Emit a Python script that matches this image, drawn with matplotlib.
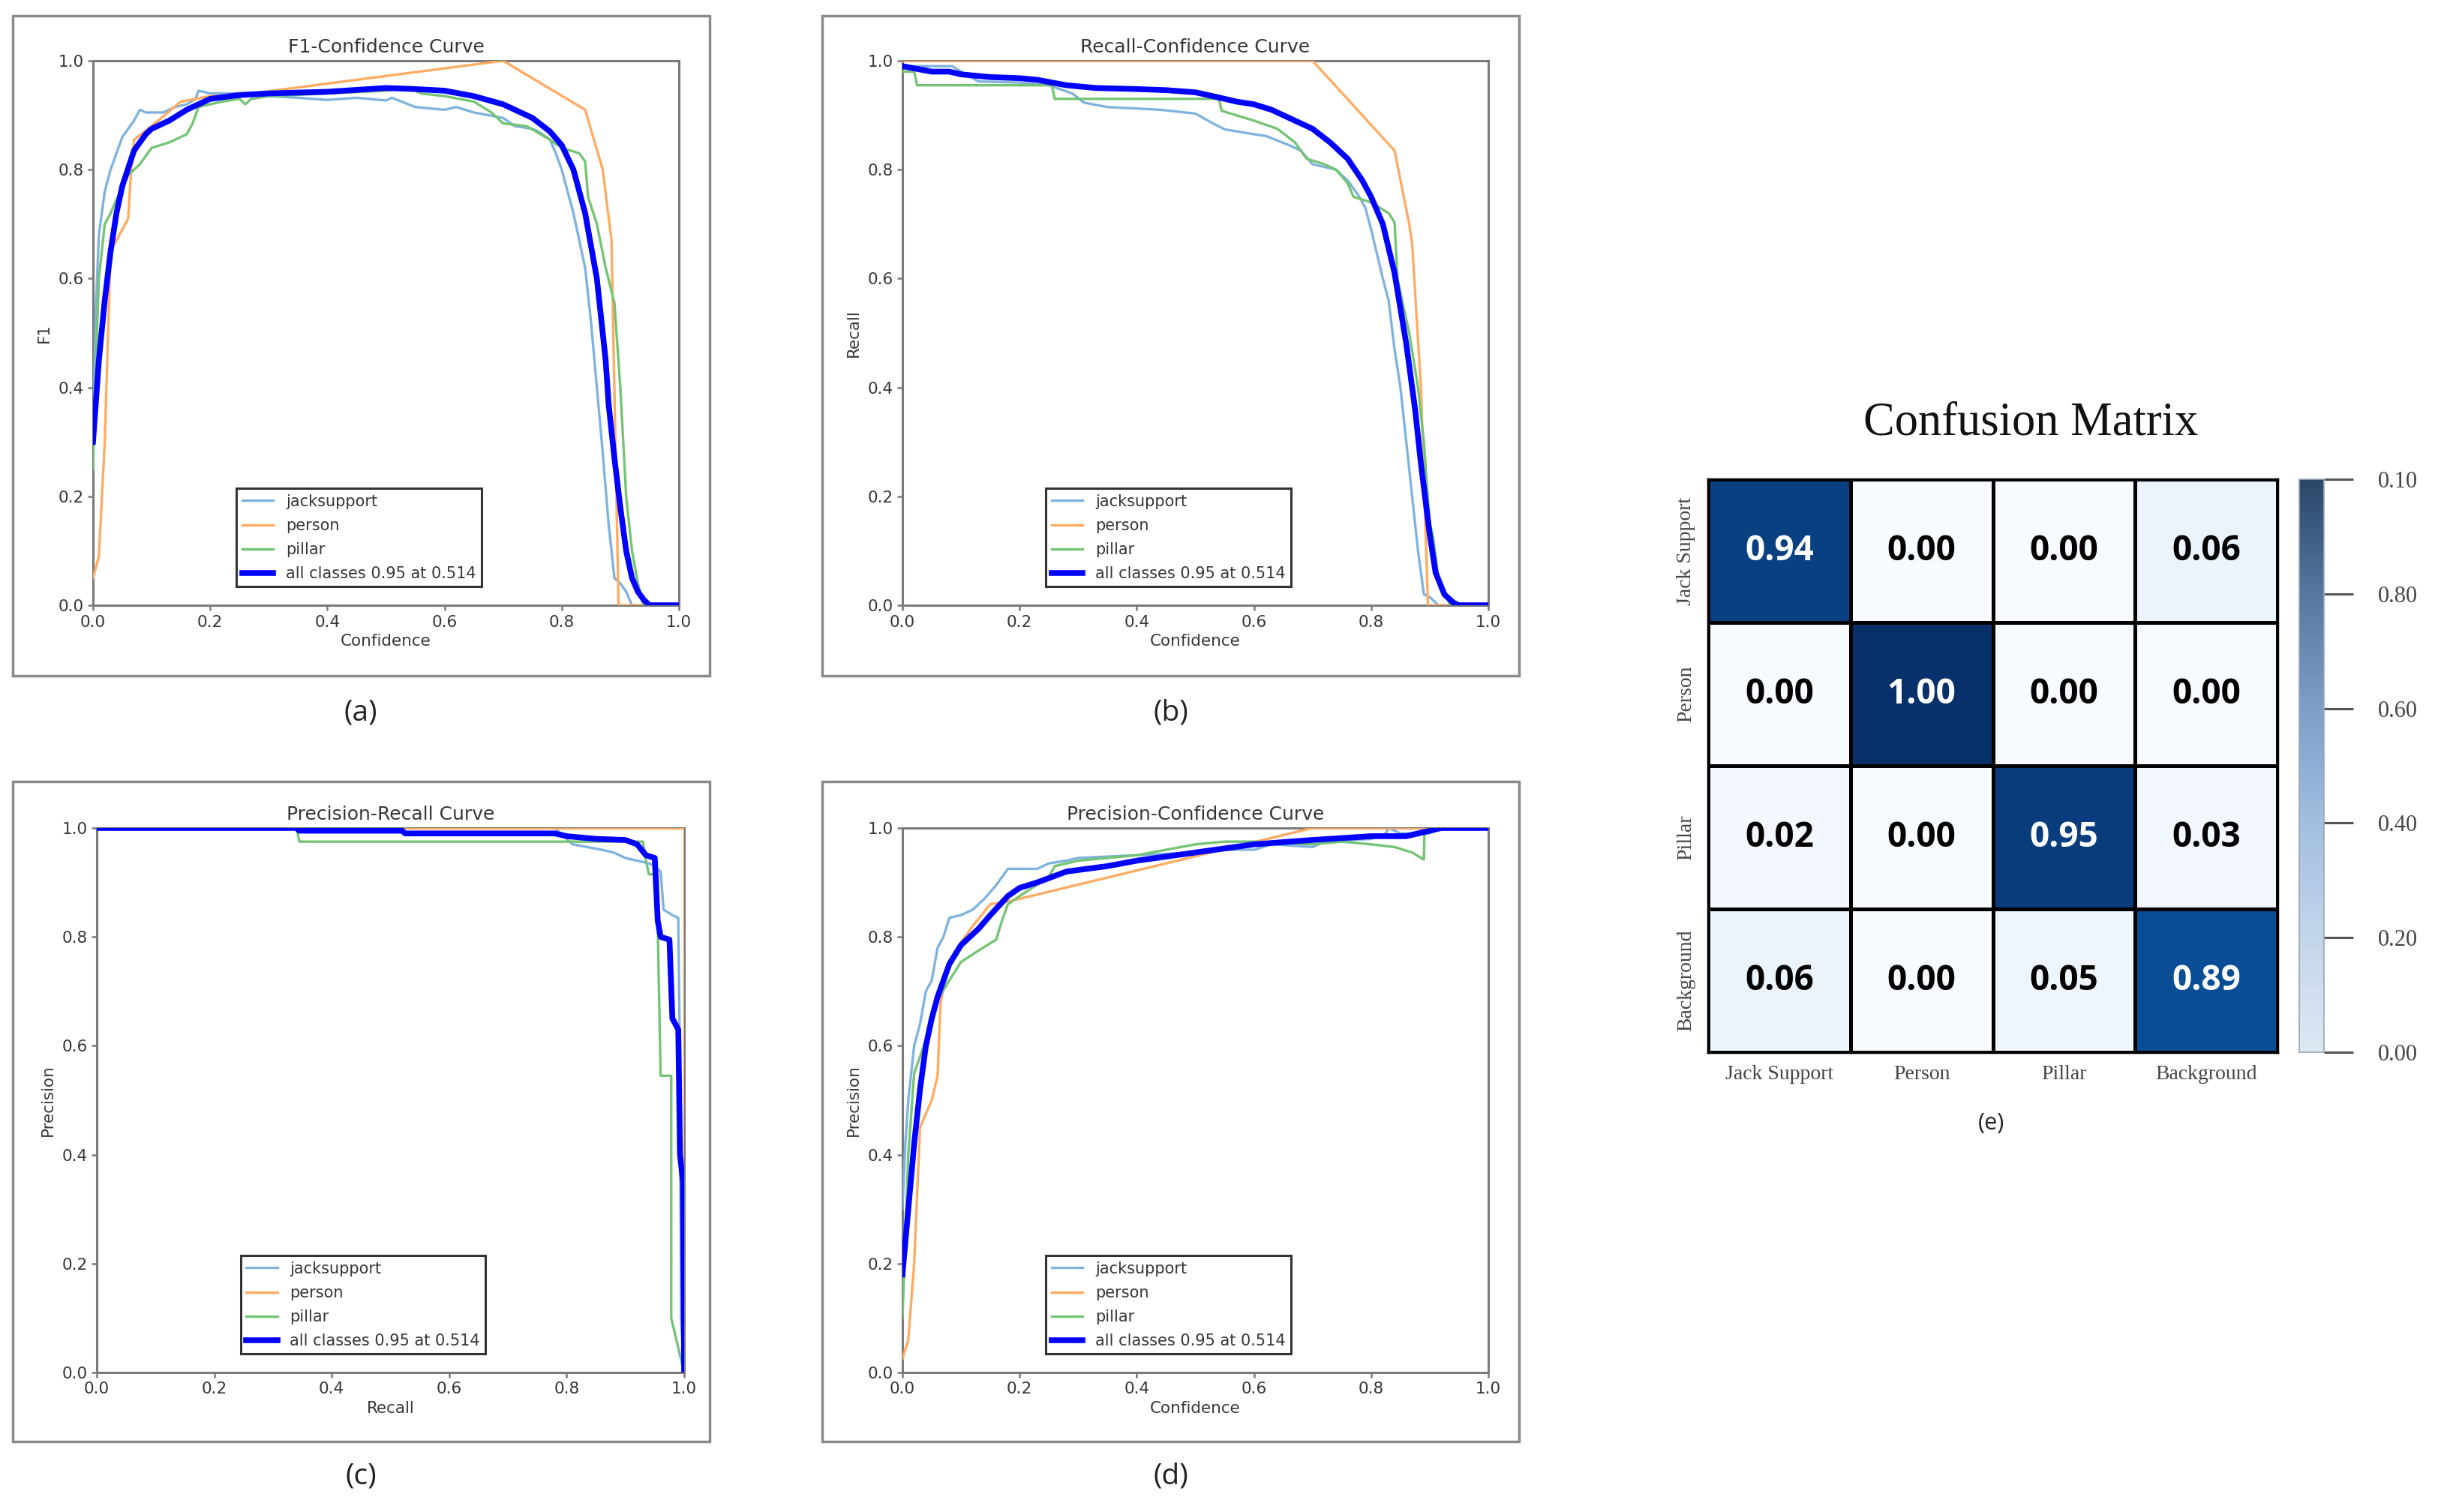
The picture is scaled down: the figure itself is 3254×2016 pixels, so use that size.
import matplotlib
matplotlib.use("Agg")
import matplotlib.pyplot as plt
import numpy as np
from matplotlib.colors import LinearSegmentedColormap, Normalize
from matplotlib.patches import Rectangle
from matplotlib.cm import ScalarMappable

# ---------------- data ----------------
class_names = ["jacksupport", "person", "pillar"]
all_label = "all classes 0.95 at 0.514"

# (a) F1-Confidence
js_f1_x = [0, 0.005, 0.01, 0.02, 0.03, 0.04, 0.05, 0.06, 0.07, 0.08, 0.09, 0.1, 0.12, 0.14, 0.16, 0.175, 0.18, 0.2, 0.25, 0.3, 0.35, 0.4, 0.45, 0.5, 0.51, 0.55, 0.6, 0.62, 0.65, 0.7, 0.72, 0.75, 0.76, 0.78, 0.79, 0.8, 0.81, 0.82, 0.83, 0.84, 0.85, 0.86, 0.87, 0.88, 0.89, 0.9, 0.91, 0.92, 1.0]
js_f1_y = [0.30, 0.55, 0.68, 0.76, 0.80, 0.83, 0.86, 0.875, 0.89, 0.91, 0.905, 0.905, 0.905, 0.915, 0.92, 0.93, 0.945, 0.94, 0.94, 0.935, 0.932, 0.928, 0.932, 0.927, 0.932, 0.915, 0.91, 0.915, 0.905, 0.895, 0.88, 0.875, 0.87, 0.855, 0.83, 0.80, 0.76, 0.72, 0.67, 0.62, 0.52, 0.40, 0.28, 0.15, 0.05, 0.04, 0.025, 0.0, 0.0]
ps_f1_x = [0, 0.01, 0.02, 0.03, 0.06, 0.065, 0.07, 0.1, 0.15, 0.2, 0.25, 0.7, 0.84, 0.87, 0.885, 0.897, 1.0]
ps_f1_y = [0.05, 0.09, 0.30, 0.65, 0.71, 0.80, 0.855, 0.88, 0.925, 0.935, 0.937, 1.0, 0.91, 0.80, 0.67, 0.0, 0.0]
pl_f1_x = [0, 0.005, 0.01, 0.02, 0.03, 0.04, 0.06, 0.08, 0.1, 0.13, 0.16, 0.17, 0.18, 0.22, 0.25, 0.26, 0.27, 0.3, 0.4, 0.5, 0.54, 0.56, 0.6, 0.65, 0.68, 0.7, 0.74, 0.78, 0.8, 0.83, 0.84, 0.845, 0.86, 0.875, 0.89, 0.9, 0.91, 0.92, 0.93, 0.94, 1.0]
pl_f1_y = [0.25, 0.45, 0.60, 0.70, 0.72, 0.745, 0.79, 0.81, 0.84, 0.85, 0.865, 0.885, 0.915, 0.925, 0.93, 0.92, 0.93, 0.935, 0.94, 0.945, 0.95, 0.94, 0.935, 0.925, 0.905, 0.885, 0.88, 0.855, 0.84, 0.83, 0.815, 0.75, 0.70, 0.62, 0.555, 0.40, 0.20, 0.10, 0.04, 0.0, 0.0]
al_f1_x = [0, 0.01, 0.02, 0.03, 0.04, 0.05, 0.07, 0.09, 0.1, 0.13, 0.16, 0.2, 0.25, 0.3, 0.4, 0.5, 0.55, 0.6, 0.65, 0.7, 0.75, 0.78, 0.8, 0.82, 0.84, 0.86, 0.875, 0.88, 0.89, 0.9, 0.91, 0.92, 0.93, 0.94, 0.95, 1.0]
al_f1_y = [0.30, 0.45, 0.56, 0.65, 0.72, 0.77, 0.835, 0.865, 0.875, 0.89, 0.91, 0.93, 0.937, 0.94, 0.943, 0.95, 0.948, 0.945, 0.935, 0.92, 0.895, 0.87, 0.845, 0.80, 0.72, 0.60, 0.45, 0.37, 0.27, 0.18, 0.10, 0.05, 0.025, 0.01, 0.0, 0.0]

# (b) Recall-Confidence
js_r_x = [0, 0.085, 0.1, 0.13, 0.2, 0.25, 0.29, 0.31, 0.35, 0.44, 0.5, 0.53, 0.55, 0.6, 0.62, 0.66, 0.68, 0.7, 0.74, 0.76, 0.78, 0.79, 0.8, 0.82, 0.83, 0.84, 0.85, 0.86, 0.87, 0.88, 0.89, 0.9, 0.915, 1.0]
js_r_y = [0.99, 0.99, 0.98, 0.962, 0.96, 0.955, 0.94, 0.923, 0.915, 0.91, 0.903, 0.885, 0.874, 0.865, 0.862, 0.845, 0.835, 0.81, 0.80, 0.78, 0.75, 0.73, 0.69, 0.60, 0.559, 0.47, 0.40, 0.30, 0.20, 0.10, 0.02, 0.015, 0.0, 0.0]
ps_r_x = [0, 0.70, 0.84, 0.865, 0.87, 0.885, 0.897, 1.0]
ps_r_y = [1.0, 1.0, 0.835, 0.70, 0.664, 0.40, 0.0, 0.0]
pl_r_x = [0, 0.02, 0.025, 0.255, 0.26, 0.54, 0.545, 0.6, 0.64, 0.67, 0.69, 0.72, 0.74, 0.76, 0.77, 0.8, 0.83, 0.84, 0.845, 0.865, 0.88, 0.89, 0.9, 0.905, 0.915, 0.935, 1.0]
pl_r_y = [0.98, 0.98, 0.955, 0.955, 0.93, 0.93, 0.908, 0.89, 0.875, 0.85, 0.82, 0.81, 0.80, 0.775, 0.75, 0.74, 0.72, 0.703, 0.60, 0.50, 0.40, 0.30, 0.15, 0.13, 0.05, 0.0, 0.0]
al_r_x = [0, 0.05, 0.08, 0.1, 0.15, 0.2, 0.23, 0.28, 0.33, 0.4, 0.45, 0.5, 0.53, 0.57, 0.6, 0.63, 0.66, 0.7, 0.73, 0.76, 0.785, 0.8, 0.82, 0.84, 0.86, 0.875, 0.885, 0.9, 0.91, 0.925, 0.94, 0.95, 1.0]
al_r_y = [0.99, 0.98, 0.98, 0.975, 0.97, 0.968, 0.965, 0.955, 0.95, 0.948, 0.946, 0.942, 0.935, 0.925, 0.92, 0.91, 0.895, 0.875, 0.85, 0.82, 0.78, 0.75, 0.70, 0.61, 0.48, 0.36, 0.26, 0.13, 0.06, 0.02, 0.005, 0.0, 0.0]

# (c) Precision-Recall
js_pr_x = [0, 0.78, 0.81, 0.86, 0.88, 0.9, 0.92, 0.94, 0.95, 0.96, 0.965, 0.98, 0.99, 0.992, 0.995, 1.0]
js_pr_y = [1.0, 1.0, 0.97, 0.96, 0.955, 0.945, 0.94, 0.935, 0.93, 0.92, 0.85, 0.84, 0.835, 0.65, 0.10, 0.0]
ps_pr_x = [0, 1.0, 1.0]
ps_pr_y = [1.0, 1.0, 0.0]
pl_pr_x = [0, 0.34, 0.345, 0.93, 0.935, 0.94, 0.955, 0.955, 0.96, 0.978, 0.978, 1.0]
pl_pr_y = [1.0, 1.0, 0.975, 0.975, 0.94, 0.915, 0.915, 0.82, 0.545, 0.545, 0.10, 0.0]
al_pr_x = [0, 0.34, 0.345, 0.52, 0.525, 0.78, 0.8, 0.85, 0.9, 0.92, 0.935, 0.95, 0.955, 0.96, 0.975, 0.98, 0.99, 0.993, 0.998, 1.0]
al_pr_y = [1.0, 1.0, 0.995, 0.995, 0.99, 0.99, 0.985, 0.98, 0.978, 0.97, 0.95, 0.945, 0.83, 0.80, 0.795, 0.65, 0.63, 0.40, 0.35, 0.0]

# (d) Precision-Confidence
js_p_x = [0, 0.005, 0.01, 0.02, 0.03, 0.04, 0.05, 0.06, 0.07, 0.08, 0.1, 0.12, 0.14, 0.16, 0.18, 0.2, 0.23, 0.25, 0.28, 0.3, 0.4, 0.5, 0.55, 0.6, 0.63, 0.7, 0.72, 0.8, 0.825, 0.83, 0.85, 0.9, 0.92, 1.0]
js_p_y = [0.30, 0.42, 0.50, 0.60, 0.64, 0.70, 0.72, 0.78, 0.80, 0.835, 0.84, 0.85, 0.87, 0.895, 0.925, 0.925, 0.925, 0.935, 0.94, 0.945, 0.95, 0.955, 0.96, 0.96, 0.97, 0.965, 0.975, 0.98, 0.99, 1.0, 0.99, 0.99, 1.0, 1.0]
ps_p_x = [0, 0.01, 0.02, 0.03, 0.05, 0.06, 0.065, 0.08, 0.1, 0.12, 0.15, 0.18, 0.2, 0.7, 1.0]
ps_p_y = [0.025, 0.06, 0.20, 0.45, 0.50, 0.545, 0.68, 0.75, 0.79, 0.82, 0.86, 0.865, 0.87, 1.0, 1.0]
pl_p_x = [0, 0.01, 0.02, 0.03, 0.04, 0.06, 0.08, 0.1, 0.13, 0.16, 0.17, 0.18, 0.2, 0.25, 0.26, 0.3, 0.4, 0.5, 0.55, 0.6, 0.7, 0.75, 0.8, 0.84, 0.87, 0.89, 0.891, 0.92, 1.0]
pl_p_y = [0.10, 0.40, 0.55, 0.58, 0.61, 0.685, 0.72, 0.754, 0.775, 0.795, 0.83, 0.86, 0.875, 0.91, 0.93, 0.94, 0.95, 0.97, 0.975, 0.975, 0.97, 0.975, 0.97, 0.965, 0.955, 0.942, 0.99, 1.0, 1.0]
al_p_x = [0, 0.01, 0.02, 0.03, 0.04, 0.05, 0.06, 0.08, 0.1, 0.13, 0.15, 0.18, 0.2, 0.23, 0.28, 0.35, 0.4, 0.5, 0.6, 0.7, 0.8, 0.86, 0.9, 0.92, 1.0]
al_p_y = [0.18, 0.30, 0.42, 0.52, 0.60, 0.65, 0.69, 0.75, 0.785, 0.815, 0.84, 0.875, 0.89, 0.90, 0.92, 0.93, 0.94, 0.955, 0.97, 0.978, 0.985, 0.985, 0.995, 1.0, 1.0]

# (e) Confusion matrix
cm_labels = ["Jack Support", "Person", "Pillar", "Background"]
cm_values = [[0.94, 0.00, 0.00, 0.06],
             [0.00, 1.00, 0.00, 0.00],
             [0.02, 0.00, 0.95, 0.03],
             [0.06, 0.00, 0.05, 0.89]]
cbar_ticks = [0.0, 0.2, 0.4, 0.6, 0.8, 1.0]
cbar_ticklabels = ["0.00", "0.20", "0.40", "0.60", "0.80", "0.10"]

# ---------------- style ----------------
plt.rcParams['font.family'] = ['DejaVu Sans']
TXT = '#363636'
SPINE = '#7a7a7a'
class_colors = ['#7fb3dd', '#ffab62', '#74c474']
all_color = '#0000ff'

W, H = 3254, 2016
fig = plt.figure(figsize=(W / 100, H / 100), dpi=100)


def rect(x0, y0, x1, y1):
    return [x0 / W, 1 - y1 / H, (x1 - x0) / W, (y1 - y0) / H]


panels = [
    dict(ax=(124, 81, 905, 807), box=(17, 21, 946, 901), lab=(481, 950, "(a)"),
         title="F1-Confidence Curve", xl="Confidence", yl="F1",
         series=[(js_f1_x, js_f1_y), (ps_f1_x, ps_f1_y), (pl_f1_x, pl_f1_y)], all=(al_f1_x, al_f1_y)),
    dict(ax=(1203, 81, 1984, 807), box=(1096, 21, 2025, 901), lab=(1561, 950, "(b)"),
         title="Recall-Confidence Curve", xl="Confidence", yl="Recall",
         series=[(js_r_x, js_r_y), (ps_r_x, ps_r_y), (pl_r_x, pl_r_y)], all=(al_r_x, al_r_y)),
    dict(ax=(129, 1104, 912, 1830), box=(17, 1042, 946, 1922), lab=(481, 1969, "(c)"),
         title="Precision-Recall Curve", xl="Recall", yl="Precision",
         series=[(js_pr_x, js_pr_y), (ps_pr_x, ps_pr_y), (pl_pr_x, pl_pr_y)], all=(al_pr_x, al_pr_y)),
    dict(ax=(1203, 1104, 1984, 1830), box=(1096, 1042, 2025, 1922), lab=(1561, 1969, "(d)"),
         title="Precision-Confidence Curve", xl="Confidence", yl="Precision",
         series=[(js_p_x, js_p_y), (ps_p_x, ps_p_y), (pl_p_x, pl_p_y)], all=(al_p_x, al_p_y)),
]

for p in panels:
    bx0, by0, bx1, by1 = p['box']
    fig.patches.append(Rectangle((bx0 / W, 1 - by1 / H), (bx1 - bx0) / W, (by1 - by0) / H,
                                 transform=fig.transFigure, fill=False,
                                 edgecolor='#8a8a8a', linewidth=2.5))
    ax = fig.add_axes(rect(*p['ax']))
    for (x, y), name, c in zip(p['series'], class_names, class_colors):
        ax.plot(x, y, color=c, linewidth=2.4, label=name, zorder=3)
    ax.plot(p['all'][0], p['all'][1], color=all_color, linewidth=5.5, label=all_label, zorder=4)
    ax.set_xlim(0, 1)
    ax.set_ylim(0, 1)
    ax.set_xticks([0, 0.2, 0.4, 0.6, 0.8, 1.0])
    ax.set_yticks([0, 0.2, 0.4, 0.6, 0.8, 1.0])
    ax.tick_params(labelsize=15.5, colors=SPINE, labelcolor=TXT, length=5, width=1.8, pad=4)
    for s in ax.spines.values():
        s.set_color(SPINE)
        s.set_linewidth(2.2)
    ax.set_title(p['title'], fontsize=18, color=TXT, pad=8)
    ax.set_xlabel(p['xl'], fontsize=15.5, color=TXT, labelpad=4)
    ax.set_ylabel(p['yl'], fontsize=15.5, color=TXT, labelpad=6)
    leg = ax.legend(loc='lower left', bbox_to_anchor=(0.245, 0.034), fontsize=15,
                    fancybox=False, edgecolor='#333333', framealpha=1,
                    labelspacing=0.58, borderpad=0.35, handlelength=2.0,
                    borderaxespad=0)
    leg.get_frame().set_linewidth(2.2)
    for t in leg.get_texts():
        t.set_color(TXT)
    lx, ly, lt = p['lab']
    fig.text(lx / W, 1 - ly / H, lt, fontsize=28, family='Open Sans', color='#222222',
             ha='center', va='center')

# ---------------- confusion matrix ----------------
hx0, hy0, hx1, hy1 = 2277, 639, 3036, 1403
axh = fig.add_axes(rect(hx0, hy0, hx1, hy1))
cm = np.array(cm_values)
axh.pcolormesh(cm, cmap='Blues', vmin=0, vmax=1, edgecolors='black', linewidth=2.2)
axh.set_xlim(0, 4)
axh.set_ylim(4, 0)
for i in range(4):
    for j in range(4):
        v = cm[i, j]
        axh.text(j + 0.5, i + 0.5, f"{v:.2f}", ha='center', va='center',
                 fontsize=33, fontweight='bold', family='Open Sans',
                 color='white' if v > 0.5 else 'black')
axh.set_xticks(np.arange(4) + 0.5)
axh.set_yticks(np.arange(4) + 0.5)
axh.set_xticklabels(cm_labels, fontsize=20, family='Liberation Serif', color='#444444')
axh.set_yticklabels(cm_labels, fontsize=20, family='Liberation Serif', color='#444444',
                    rotation=90, va='center')
axh.tick_params(length=0, pad=12)
for s in axh.spines.values():
    s.set_color('black')
    s.set_linewidth(2.5)

cbar_cmap = LinearSegmentedColormap.from_list(
    'cb', ['#dde7f3', '#c3d5eb', '#a2bee0', '#7c9ec9', '#56779f', '#2b4669'])
cax = fig.add_axes(rect(3065, hy0, 3098, hy1))
sm = ScalarMappable(norm=Normalize(0, 1), cmap=cbar_cmap)
cb = fig.colorbar(sm, cax=cax)
cb.set_ticks(cbar_ticks)
cb.set_ticklabels(cbar_ticklabels)
cb.outline.set_edgecolor('#9aa5b5')
cb.outline.set_linewidth(1.2)
cax.tick_params(length=28, width=2.2, color='#555555', pad=24, labelsize=22)
for t in cax.get_yticklabels():
    t.set_family('Liberation Serif')
    t.set_color('#444444')

fig.text(2707 / W, 1 - 564 / H, "Confusion Matrix", fontsize=45, family='Liberation Serif',
         color='#111111', ha='center', va='center')
fig.text(2654 / W, 1 - 1498 / H, "(e)", fontsize=22, family='Open Sans', color='#222222',
         ha='center', va='center')

fig.savefig("out.png", dpi=100, facecolor='white')
